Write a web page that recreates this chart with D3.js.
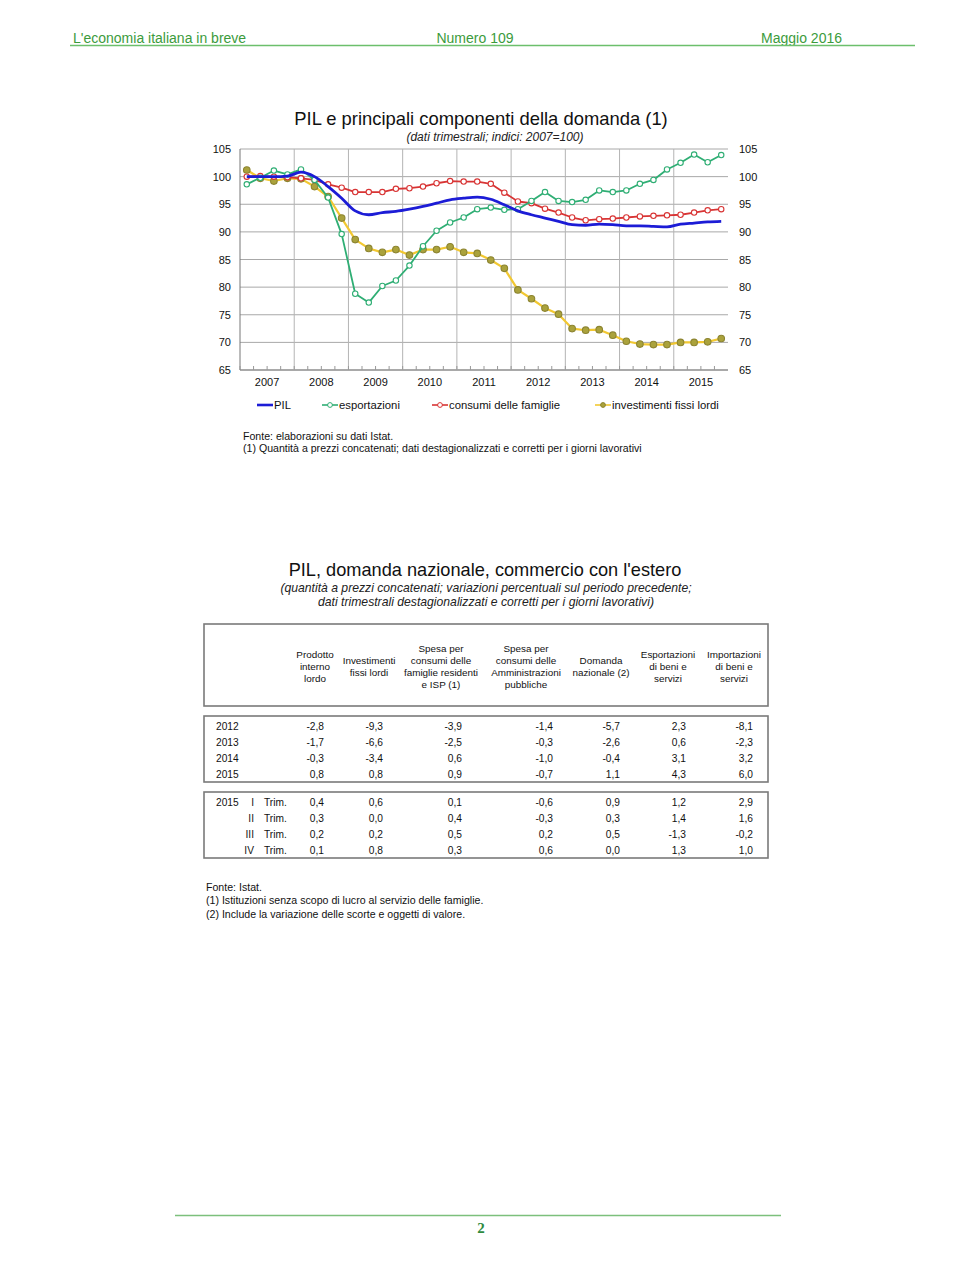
<!DOCTYPE html>
<html><head><meta charset="utf-8">
<script src="https://cdn.jsdelivr.net/npm/d3@7"></script>
<style>
html,body{margin:0;padding:0;background:#fff;}
svg{display:block;font-family:"Liberation Sans",Arial,sans-serif;}
</style></head>
<body>
<svg id="page" width="960" height="1280"></svg>
<script>
// ---------- DATA ----------
const years = [2007, 2008, 2009, 2010, 2011, 2012, 2013, 2014, 2015];
const yTicks = [65, 70, 75, 80, 85, 90, 95, 100, 105];
const seriesNames = ["PIL", "esportazioni", "consumi delle famiglie", "investimenti fissi lordi"];
const pil = [100.0,100.0,100.0,100.1,100.8,100.0,98.2,96.1, 93.8,93.1,93.5,93.7,94.1,94.6,95.2,95.8, 96.1,96.3,95.9,94.9,93.8,93.1,92.5,91.9, 91.3,91.2,91.4,91.3,91.1,91.1,91.0,90.9, 91.4,91.6,91.8,91.9];
const esportazioni = [98.6,99.8,101.1,100.4,101.3,99.4,96.2,89.6, 78.8,77.2,80.2,81.2,83.9,87.4,90.2,91.7, 92.6,94.1,94.4,94.0,94.1,95.6,97.2,95.6, 95.4,95.8,97.5,97.2,97.5,98.7,99.4,101.3, 102.5,104.0,102.6,103.9];
const consumi = [100.0,100.1,100.0,99.9,99.7,99.4,98.6,98.0, 97.2,97.2,97.2,97.8,97.9,98.2,98.8,99.2, 99.1,99.1,98.7,97.1,95.5,95.2,94.2,93.5, 92.6,92.1,92.3,92.4,92.6,92.8,92.9,93.0, 93.1,93.5,93.9,94.1];
const investimenti = [101.2,99.7,99.2,99.7,99.6,98.2,96.4,92.5, 88.6,87.0,86.3,86.8,85.8,86.8,86.8,87.3, 86.3,86.1,84.9,83.4,79.5,77.9,76.2,75.1, 72.5,72.2,72.3,71.3,70.2,69.7,69.6,69.6, 70.0,70.0,70.1,70.7];

const tableHeaders = [
  ["Prodotto","interno","lordo"],
  ["Investimenti","fissi lordi"],
  ["Spesa per","consumi delle","famiglie residenti","e ISP (1)"],
  ["Spesa per","consumi delle","Amministrazioni","pubbliche"],
  ["Domanda","nazionale (2)"],
  ["Esportazioni","di beni e","servizi"],
  ["Importazioni","di beni e","servizi"]
];
const annualLabels = ["2012","2013","2014","2015"];
const annualRows = [
  ["-2,8","-9,3","-3,9","-1,4","-5,7","2,3","-8,1"],
  ["-1,7","-6,6","-2,5","-0,3","-2,6","0,6","-2,3"],
  ["-0,3","-3,4","0,6","-1,0","-0,4","3,1","3,2"],
  ["0,8","0,8","0,9","-0,7","1,1","4,3","6,0"]
];
const quarterYear = "2015";
const quarterLabels = ["I","II","III","IV"];
const quarterRows = [
  ["0,4","0,6","0,1","-0,6","0,9","1,2","2,9"],
  ["0,3","0,0","0,4","-0,3","0,3","1,4","1,6"],
  ["0,2","0,2","0,5","0,2","0,5","-1,3","-0,2"],
  ["0,1","0,8","0,3","0,6","0,0","1,3","1,0"]
];

// ---------- PAGE ----------
const svg = d3.select("#page");
const green = "#3c9b3c";

// header
const hdr = svg.append("g").attr("fill", green).style("font-size","14px").style("font-family","'Liberation Sans Narrow','Liberation Sans',Arial,sans-serif");
hdr.append("text").attr("x",73).attr("y",43).text("L'economia italiana in breve");
hdr.append("text").attr("x",475).attr("y",43).attr("text-anchor","middle").text("Numero 109");
hdr.append("text").attr("x",842).attr("y",43).attr("text-anchor","end").text("Maggio 2016");
svg.append("line").attr("x1",70).attr("x2",915).attr("y1",45.5).attr("y2",45.5).attr("stroke","#6cbf6c").attr("stroke-width",1.5);

// ---------- CHART ----------
const X0 = 240, X1 = 728, Y0 = 149, Y1 = 370;
const x = d3.scaleLinear().domain([years[0], years[years.length-1]+1]).range([X0, X1]);
const y = d3.scaleLinear().domain([65,105]).range([Y1, Y0]);
const quarterPos = i => years[0] + (i + 0.5) / 4;

svg.append("text").attr("x",481).attr("y",125).attr("text-anchor","middle")
  .style("font-size","18.4px").attr("fill","#111").text("PIL e principali componenti della domanda (1)");
svg.append("text").attr("x",495).attr("y",141).attr("text-anchor","middle")
  .style("font-size","12px").style("font-style","italic").attr("fill","#222").text("(dati trimestrali; indici: 2007=100)");

const chart = svg.append("g");
// horizontal grid
chart.append("g").selectAll("line").data(yTicks).join("line")
  .attr("x1",X0).attr("x2",X1).attr("y1",d=>y(d)).attr("y2",d=>y(d))
  .attr("stroke", d => d===65 ? "#555" : "#a8a8a8").attr("stroke-width", d => d===65 ? 1.2 : 1);
// vertical grid at year boundaries
chart.append("g").selectAll("line").data(years.slice(1)).join("line")
  .attr("x1",d=>x(d)).attr("x2",d=>x(d)).attr("y1",Y0).attr("y2",Y1)
  .attr("stroke","#b4b4b4").attr("stroke-width",1);
// left axis line
chart.append("line").attr("x1",X0).attr("x2",X0).attr("y1",Y0).attr("y2",Y1).attr("stroke","#777").attr("stroke-width",1);
// quarter minor ticks at bottom
const qTicks = d3.range(years[0], years[years.length-1]+1, 0.25);
chart.append("g").selectAll("line").data(qTicks).join("line")
  .attr("x1",d=>x(d)).attr("x2",d=>x(d)).attr("y1",Y1).attr("y2",Y1-4)
  .attr("stroke","#999").attr("stroke-width",1);

// y labels
const yl = chart.append("g").style("font-size","11px").attr("fill","#111");
yl.selectAll("text.l").data(yTicks).join("text").attr("class","l")
  .attr("x",231).attr("y",d=>y(d)+4).attr("text-anchor","end").text(d=>d);
yl.selectAll("text.r").data(yTicks).join("text").attr("class","r")
  .attr("x",739).attr("y",d=>y(d)+4).attr("text-anchor","start").text(d=>d);
// x labels
chart.append("g").style("font-size","11px").attr("fill","#111")
  .selectAll("text").data(years).join("text")
  .attr("x",d=>x(d+0.5)).attr("y",386).attr("text-anchor","middle").text(d=>d);

const colors = {pil:"#1c1cd6", exp:"#2fae74", con:"#d83434", inv:"#f2c832"};
const lineGen = d3.line().x((d,i)=>x(quarterPos(i))).y(d=>y(d));
const smoothGen = d3.line().x((d,i)=>x(quarterPos(i))).y(d=>y(d)).curve(d3.curveMonotoneX);

function drawSeries(data, color, markerFill, markerStroke, r, w, gen) {
  chart.append("path").datum(data).attr("d", gen).attr("fill","none")
    .attr("stroke",color).attr("stroke-width",w).attr("stroke-linejoin","round");
  if (markerFill) {
    chart.append("g").selectAll("circle").data(data).join("circle")
      .attr("cx",(d,i)=>x(quarterPos(i))).attr("cy",d=>y(d)).attr("r",r)
      .attr("fill",markerFill).attr("stroke",markerStroke).attr("stroke-width",1.1);
  }
}
drawSeries(investimenti, colors.inv, "#aaa23c", "#8c8430", 3.3, 2.2, lineGen);
drawSeries(consumi, colors.con, "#fff", colors.con, 2.7, 1.8, lineGen);
drawSeries(esportazioni, colors.exp, "#fff", colors.exp, 2.7, 1.8, lineGen);
drawSeries(pil, colors.pil, null, null, 0, 2.8, smoothGen);

// legend
const lg = svg.append("g").style("font-size","11.3px").attr("fill","#111");
const legendItems = [
  {name:seriesNames[0], color:colors.pil, x:257, marker:null},
  {name:seriesNames[1], color:colors.exp, x:322, marker:"#fff"},
  {name:seriesNames[2], color:colors.con, x:432, marker:"#fff"},
  {name:seriesNames[3], color:colors.inv, x:595, marker:"#aaa23c"}
];
legendItems.forEach(it => {
  lg.append("line").attr("x1",it.x).attr("x2",it.x+16).attr("y1",405).attr("y2",405)
    .attr("stroke",it.color).attr("stroke-width", it.marker ? 1.6 : 2.6);
  if (it.marker) lg.append("circle").attr("cx",it.x+8).attr("cy",405).attr("r",2.4)
    .attr("fill",it.marker).attr("stroke", it.marker==="#fff" ? it.color : "#8c8430").attr("stroke-width",1);
  lg.append("text").attr("x",it.x+17).attr("y",409).text(it.name);
});

const notes = svg.append("g").style("font-size","10.6px").attr("fill","#111");
notes.append("text").attr("x",243).attr("y",440).text("Fonte: elaborazioni su dati Istat.");
notes.append("text").attr("x",243).attr("y",452).text("(1) Quantità a prezzi concatenati; dati destagionalizzati e corretti per i giorni lavorativi");

// ---------- TABLE ----------
svg.append("text").attr("x",485).attr("y",576).attr("text-anchor","middle")
  .style("font-size","18.2px").attr("fill","#111").text("PIL, domanda nazionale, commercio con l'estero");
const tsub = svg.append("g").style("font-size","12.2px").style("font-style","italic").attr("fill","#222").attr("text-anchor","middle");
tsub.append("text").attr("x",486).attr("y",592).text("(quantità a prezzi concatenati; variazioni percentuali sul periodo precedente;");
tsub.append("text").attr("x",486).attr("y",606).text("dati trimestrali destagionalizzati e corretti per i giorni lavorativi)");

const boxStroke = "#7a7a7a";
[[624,706],[716,782],[792,858]].forEach(([a,b]) => {
  svg.append("rect").attr("x",204).attr("y",a).attr("width",564).attr("height",b-a)
    .attr("fill","none").attr("stroke",boxStroke).attr("stroke-width",1.6);
});

const headCenters = [315, 369, 441, 526, 601, 668, 734];
const th = svg.append("g").style("font-size","9.9px").attr("fill","#111").attr("text-anchor","middle");
tableHeaders.forEach((lines, c) => {
  const n = lines.length;
  const startY = 666 - (n-1)*6 + 3.5;
  lines.forEach((ln, k) => th.append("text").attr("x",headCenters[c]).attr("y",startY + k*12).text(ln));
});

const colRight = [324, 383, 462, 553, 620, 686, 753];
const tb = svg.append("g").style("font-size","10.2px").attr("fill","#111");
const rowY1 = [726, 742, 758, 774];
annualRows.forEach((row, r) => {
  tb.append("text").attr("x",216).attr("y",rowY1[r]+3.5).text(annualLabels[r]);
  row.forEach((v,c) => tb.append("text").attr("x",colRight[c]).attr("y",rowY1[r]+3.5).attr("text-anchor","end").text(v));
});
const rowY2 = [802, 818, 834, 850];
quarterRows.forEach((row, r) => {
  if (r===0) tb.append("text").attr("x",216).attr("y",rowY2[r]+3.5).text(quarterYear);
  tb.append("text").attr("x",254).attr("y",rowY2[r]+3.5).attr("text-anchor","end").text(quarterLabels[r]);
  tb.append("text").attr("x",264).attr("y",rowY2[r]+3.5).text("Trim.");
  row.forEach((v,c) => tb.append("text").attr("x",colRight[c]).attr("y",rowY2[r]+3.5).attr("text-anchor","end").text(v));
});

const tn = svg.append("g").style("font-size","10.6px").attr("fill","#111");
tn.append("text").attr("x",206).attr("y",891).text("Fonte: Istat.");
tn.append("text").attr("x",206).attr("y",904).text("(1) Istituzioni senza scopo di lucro al servizio delle famiglie.");
tn.append("text").attr("x",206).attr("y",918).text("(2) Include la variazione delle scorte e oggetti di valore.");

// footer
svg.append("line").attr("x1",175).attr("x2",781).attr("y1",1215.5).attr("y2",1215.5).attr("stroke","#7cc07c").attr("stroke-width",1.5);
svg.append("text").attr("x",481).attr("y",1233).attr("text-anchor","middle")
  .style("font-family","'Liberation Serif','DejaVu Serif',serif").style("font-weight","bold").style("font-size","15px")
  .attr("fill","#2e8b3e").text("2");
</script>
</body></html>
